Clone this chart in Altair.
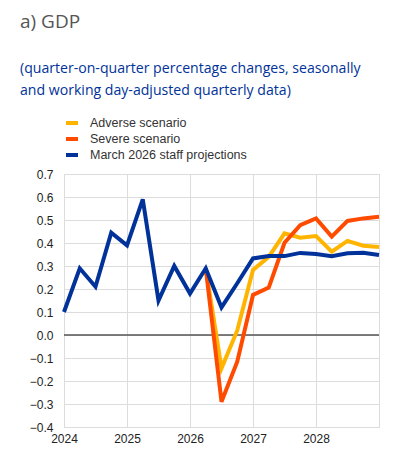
import altair as alt
import pandas as pd

# quarterly positions 2024Q1 .. 2029Q1
quarters = [2024 + i * 0.25 for i in range(21)]

baseline = [0.10, 0.29, 0.21, 0.445, 0.39, 0.59, 0.15, 0.30, 0.18, 0.29,
            0.12, 0.225, 0.333, 0.343, 0.343, 0.357, 0.352, 0.343, 0.355, 0.358, 0.348]
adverse = [0.29, -0.145, 0.02, 0.283, 0.34, 0.442, 0.423, 0.43, 0.362, 0.409, 0.388, 0.383]
severe = [0.29, -0.29, -0.116, 0.174, 0.206, 0.401, 0.478, 0.507, 0.428, 0.496, 0.507, 0.514]

series_names = ["Adverse scenario", "Severe scenario", "March 2026 staff projections"]
series_colors = ["#FFB400", "#FF4B00", "#003299"]
y_ticks = [-0.4, -0.3, -0.2, -0.1, 0.0, 0.1, 0.2, 0.3, 0.4, 0.5, 0.6, 0.7]
x_ticks = [2024, 2025, 2026, 2027, 2028, 2029]

rows = []
for q, v in zip(quarters[9:], adverse):
    rows.append({"t": q, "v": v, "s": series_names[0], "o": 0})
for q, v in zip(quarters[9:], severe):
    rows.append({"t": q, "v": v, "s": series_names[1], "o": 1})
for q, v in zip(quarters, baseline):
    rows.append({"t": q, "v": v, "s": series_names[2], "o": 2})
df = pd.DataFrame(rows)

one = pd.DataFrame({"k": [0]})

y_scale = alt.Scale(domain=[-0.4, 0.7], nice=False, zero=False)
y_axis = alt.Axis(values=y_ticks, format=".1f", title=None, grid=True, gridColor="#dcdcdc",
                  ticks=False, domain=False, labelFont="Liberation Sans", labelFontSize=12,
                  labelColor="#222", labelPadding=11, labelOverlap=False, labelFlush=False)
x_scale = alt.Scale(domain=[2024, 2029], nice=False, zero=False)
x_axis = alt.Axis(values=x_ticks, format="d", title=None,
                  labelExpr="datum.value < 2029 ? datum.label : ''",
                  grid=True, gridColor="#dcdcdc", ticks=False, domain=False,
                  labelFont="Liberation Sans", labelFontSize=12, labelColor="#222",
                  labelPadding=6, labelFlush=False, labelOverlap=False)

zero = alt.Chart(one).mark_rule(color="#555", strokeWidth=1.5).encode(
    y=alt.Y(datum=0, scale=y_scale, axis=y_axis))

lines = alt.Chart(df).mark_line(strokeWidth=4, strokeJoin="miter").encode(
    x=alt.X("t:Q", scale=x_scale, axis=x_axis),
    y=alt.Y("v:Q", scale=y_scale, axis=y_axis),
    color=alt.Color("s:N", scale=alt.Scale(domain=series_names, range=series_colors),
                    legend=alt.Legend(orient="none", legendX=0, legendY=-59, title=None,
                                      symbolType="stroke", symbolStrokeWidth=4, symbolSize=144,
                                      labelFont="Liberation Sans", labelFontSize=12.5,
                                      labelColor="#333", rowPadding=0, labelOffset=10)),
    order="o:Q",
    detail="s:N",
)

title = alt.Chart(one).mark_text(text="a) GDP", align="left", baseline="alphabetic",
                                 font="Open Sans", fontSize=19, color="#555").encode(
    x=alt.value(-44), y=alt.value(-146))
sub1 = alt.Chart(one).mark_text(text="(quarter-on-quarter percentage changes, seasonally",
                                align="left", baseline="alphabetic", font="Open Sans",
                                fontSize=14.1, color="#003299").encode(
    x=alt.value(-44), y=alt.value(-101))
sub2 = alt.Chart(one).mark_text(text="and working day-adjusted quarterly data)",
                                align="left", baseline="alphabetic", font="Open Sans",
                                fontSize=14.1, color="#003299").encode(
    x=alt.value(-44), y=alt.value(-79))

chart = alt.layer(zero, lines, title, sub1, sub2).properties(
    width=315, height=253,
    autosize=alt.AutoSizeParams(type="none"),
    padding={"left": 56, "top": 166, "right": 6, "bottom": 26},
).configure_view(stroke="#dcdcdc")

chart.save("out.html", embed_options={"renderer": "svg", "actions": False})
